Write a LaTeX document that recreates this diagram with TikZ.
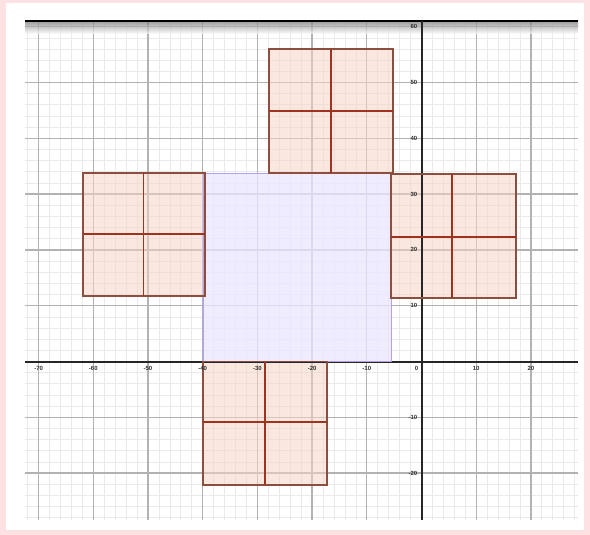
\documentclass[tikz,border=0pt]{standalone}
\usepackage{fontspec}
\setmainfont{Liberation Sans}
\definecolor{pinkbg}{RGB}{252,226,226}
\definecolor{minorg}{RGB}{234,234,234}
\definecolor{majorg}{RGB}{178,178,178}
\definecolor{sqfill}{RGB}{246,212,198}
\definecolor{sqedge}{RGB}{140,78,62}
\definecolor{sqdiv}{RGB}{160,50,30}
\definecolor{pfill}{RGB}{236,230,255}
\definecolor{pedge}{RGB}{180,160,238}
\definecolor{lblc}{RGB}{50,50,50}
\begin{document}
\begin{tikzpicture}[x=1pt,y=-1pt,
  minorline/.style={draw=minorg,line width=0.7pt},
  majorline/.style={draw=majorg,line width=1.3pt},
  axisline/.style={draw=black!85,line width=2pt},
  groupfill/.style={fill=sqfill,fill opacity=0.55},
  groupedge/.style={draw=sqedge,line width=1.4pt},
  groupdiv/.style={draw=sqdiv,line width=1.9pt},
  purplefill/.style={fill=pfill,fill opacity=0.75},
  purpleedge/.style={draw=pedge,line width=1pt},
  ticklbl/.style={font=\fontsize{6}{7}\selectfont\bfseries,text=lblc,inner sep=0.5pt}]
\useasboundingbox (0,0) rectangle (590,535);
\fill[pinkbg] (0,0) rectangle (590,535);
\fill[white] (6,3) rectangle (584,530);
% grid
\begin{scope}
\clip (25,21) rectangle (578,520);
\foreach \i in {-40,...,15} \draw[minorline] ({421.5+\i*10.94},21) -- ++(0,499);
\foreach \j in {-31,...,15} \draw[minorline] (25,{361.5+\j*11.16}) -- ++(553,0);
\foreach \i in {-8,...,3} \draw[majorline] ({421.5+\i*54.7},21) -- ++(0,499);
\foreach \j in {-7,...,3} \draw[majorline] (25,{361.5+\j*55.8}) -- ++(553,0);
\end{scope}
\shade[top color=black!55,bottom color=white,opacity=0.7] (25,21) rectangle (578,34);
\draw[black,line width=2pt] (25,21) -- (578,21);
% fills
\fill[purplefill] (203,174) rectangle (391,361.5);
\fill[groupfill] (269,49) rectangle (393,173);
\fill[groupfill] (83,173) rectangle (205,296);
\fill[groupfill] (391,174) rectangle (516,298);
\fill[groupfill] (203,361.5) rectangle (327,485);
% axes
\draw[axisline] (25,361.5) -- (578,361.5);
\draw[axisline] (421.5,21) -- (421.5,520);
% borders
\draw[purpleedge] (203,174) rectangle (391,361.5);
\draw[groupedge] (269,49) rectangle (393,173);
\draw[groupdiv] (331,49) -- (331,173) (269,111) -- (393,111);
\draw[groupedge] (83,173) rectangle (205,296);
\draw[groupdiv] (143.5,173) -- (143.5,296) (83,234) -- (205,234);
\draw[groupedge] (391,174) rectangle (516,298);
\draw[groupdiv] (452,174) -- (452,298) (391,237) -- (516,237);
\draw[groupedge] (203,361.5) rectangle (327,485);
\draw[groupdiv] (265,361.5) -- (265,485) (203,422) -- (327,422);
% tick labels
\foreach \k/\t in {-7/-70,-6/-60,-5/-50,-4/-40,-3/-30,-2/-20,-1/-10,1/10,2/20}
  \node[ticklbl,anchor=north] (xl\k) at ({421.5+\k*54.7},366) {\t};
\node[ticklbl,anchor=north east] (xl0) at (419,366) {0};
\foreach \k/\t in {-6/60,-5/50,-4/40,-3/30,-2/20,-1/10,1/-10,2/-20}
  \node[ticklbl,anchor=east] (yl\k) at (418,{361.5+\k*55.8}) {\t};
\end{tikzpicture}
\end{document}
